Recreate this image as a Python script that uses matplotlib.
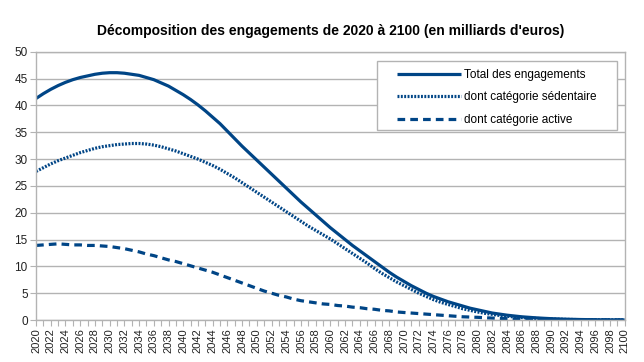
import matplotlib
matplotlib.use("Agg")
import matplotlib.pyplot as plt
from matplotlib.patches import Rectangle

years = list(range(2020, 2101))

total = [41.3, 42.2, 43.0, 43.7, 44.3, 44.8, 45.2, 45.5, 45.8, 46.0,
         46.1, 46.1, 46.0, 45.8, 45.6, 45.2, 44.8, 44.2, 43.6, 42.8,
         42.0, 41.1, 40.1, 39.0, 37.8, 36.6, 35.2, 33.8, 32.4, 31.1,
         29.8, 28.5, 27.2, 25.9, 24.6, 23.3, 22.0, 20.8, 19.6, 18.4,
         17.2, 16.1, 15.0, 13.9, 12.9, 11.9, 10.9, 9.9, 8.9, 8.0,
         7.2, 6.4, 5.7, 5.0, 4.4, 3.9, 3.4, 3.0, 2.6, 2.2,
         1.9, 1.6, 1.3, 1.1, 0.9, 0.75, 0.6, 0.5, 0.4, 0.32,
         0.25, 0.2, 0.15, 0.12, 0.09, 0.07, 0.05, 0.04, 0.03, 0.02, 0.01]

sedentaire = [27.7, 28.4, 29.1, 29.7, 30.2, 30.7, 31.2, 31.6, 32.0, 32.3,
              32.5, 32.7, 32.8, 32.9, 32.9, 32.8, 32.6, 32.3, 31.9, 31.5,
              31.0, 30.5, 30.0, 29.4, 28.8, 28.1, 27.3, 26.5, 25.6, 24.7,
              23.8, 22.9, 22.0, 21.1, 20.2, 19.3, 18.4, 17.5, 16.7, 15.9,
              15.1, 14.2, 13.3, 12.4, 11.5, 10.6, 9.6, 8.7, 7.9, 7.1,
              6.4, 5.7, 5.0, 4.4, 3.8, 3.3, 2.9, 2.5, 2.1, 1.8,
              1.5, 1.25, 1.05, 0.85, 0.7, 0.57, 0.46, 0.37, 0.3, 0.24,
              0.19, 0.15, 0.12, 0.09, 0.07, 0.05, 0.04, 0.03, 0.02, 0.015, 0.01]

active = [13.9, 14.0, 14.1, 14.2, 14.1, 14.0, 14.0, 13.9, 13.9, 13.8,
          13.7, 13.5, 13.3, 13.0, 12.7, 12.3, 12.0, 11.6, 11.2, 10.9,
          10.5, 10.1, 9.7, 9.3, 8.9, 8.4, 7.9, 7.4, 6.9, 6.4,
          5.9, 5.4, 5.0, 4.6, 4.3, 3.9, 3.6, 3.4, 3.2, 3.0,
          2.9, 2.7, 2.6, 2.4, 2.3, 2.1, 2.0, 1.8, 1.7, 1.5,
          1.4, 1.3, 1.2, 1.1, 1.0, 0.9, 0.8, 0.7, 0.6, 0.55,
          0.5, 0.42, 0.36, 0.3, 0.25, 0.2, 0.17, 0.14, 0.11, 0.09,
          0.07, 0.05, 0.04, 0.03, 0.02, 0.015, 0.01, 0.01, 0.005, 0.0, 0.0]

labels = ["Total des engagements", "dont catégorie sédentaire", "dont catégorie active"]
title = "Décomposition des engagements de 2020 à 2100 (en milliards d'euros)"

plt.rcParams['font.family'] = ['Liberation Sans', 'DejaVu Sans']
color = "#004586"
grid_c = "#b3b3b3"

fig = plt.figure(figsize=(6.44, 3.62), dpi=100)
ax = fig.add_axes([0.056, 0.116, 0.914, 0.741])

ax.plot(years, total, color=color, lw=2.3, solid_capstyle='butt', label=labels[0])
ax.plot(years, sedentaire, color=color, lw=2.3, linestyle=(0, (0.6, 0.45)), label=labels[1])
ax.plot(years, active, color=color, lw=2.3, linestyle=(0, (2.4, 1.6)), label=labels[2])

ax.set_xlim(2020, 2100)
ax.set_ylim(0, 50)
ax.set_yticks(range(0, 51, 5))
ax.set_xticks(years)
ax.set_xticklabels([str(y) if (y - 2020) % 2 == 0 else "" for y in years], rotation=90)
ax.tick_params(axis='x', length=4, width=0.8, color=grid_c, labelsize=8, pad=2, labelcolor="#222222")
ax.tick_params(axis='y', length=4, width=0.8, color=grid_c, labelsize=8.5, pad=2, labelcolor="#222222")

ax.grid(axis='y', color=grid_c, lw=1)
ax.set_axisbelow(True)
for s in ax.spines.values():
    s.set_color(grid_c)
    s.set_linewidth(1)

ax.set_title(title, fontsize=10, fontweight='bold', pad=12)

# legend frame drawn separately for wider horizontal padding
ax.add_patch(Rectangle((0.579, 0.708), 0.408, 0.258, transform=ax.transAxes,
                       facecolor='white', edgecolor=grid_c, lw=1, zorder=4))
leg = ax.legend(loc='upper left', bbox_to_anchor=(0.613, 0.937), fontsize=8.5, handlelength=5.4,
                frameon=False, borderpad=0, borderaxespad=0,
                labelspacing=0.9, handletextpad=0.3)
leg.set_zorder(5)

fig.savefig("out.png", dpi=100)
